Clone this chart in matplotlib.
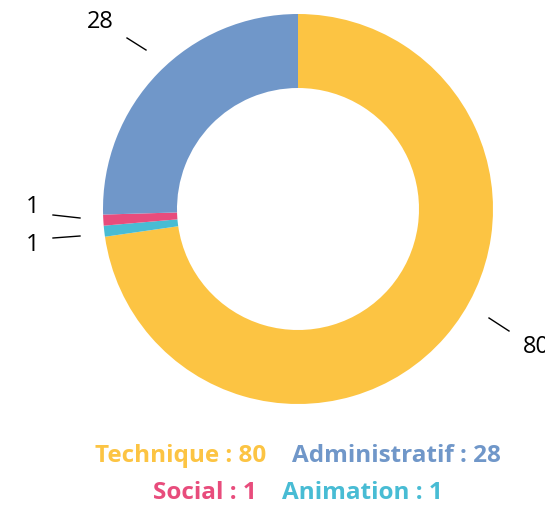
import matplotlib
matplotlib.use("Agg")
import matplotlib.pyplot as plt
import numpy as np

# data (clockwise from 12 o'clock)
categories = ["Technique", "Animation", "Social", "Administratif"]
values = [80, 1, 1, 28]
colors = ["#FCC443", "#48BCD4", "#E84C7C", "#7097C9"]

# legend order
legend_rows = [["Technique", "Administratif"], ["Social", "Animation"]]

W, H = 545, 507
cx, cy, R = 298, 209, 195  # pixel centre / outer radius

fig = plt.figure(figsize=(W / 100, H / 100), dpi=100)
ax = fig.add_axes([0, 0, 1, 1])

wedges, _ = ax.pie(values, colors=colors, startangle=90, counterclock=False,
                   radius=1, wedgeprops=dict(width=74 / R, edgecolor="none"))
ax.set_xlim(-cx / R, (W - cx) / R)
ax.set_ylim((cy - H) / R, cy / R)
ax.set_aspect("equal")
ax.axis("off")

def px(x, y):
    return ((x - cx) / R, (cy - y) / R)

# outside value labels with leader lines (pixel positions)
label_pos = {
    "Technique": ((536, 347), (489, 318), (509, 331)),
    "Animation": ((33, 245), (80, 236), (53, 238)),
    "Social": ((33, 207), (80, 218), (53, 215)),
    "Administratif": ((100, 22), (146, 50), (127, 38)),
}
for cat, v in zip(categories, values):
    t, a, b = label_pos[cat]
    ax.plot(*zip(px(*a), px(*b)), color="black", lw=1)
    ax.text(*px(*t), str(v), ha="center", va="center", fontsize=17,
            family="Open Sans", color="black", clip_on=False)

# legend as coloured text rows
col = dict(zip(categories, colors))
val = dict(zip(categories, values))
renderer = fig.canvas.get_renderer()
gap = 25
for row, yrow in zip(legend_rows, [456, 493]):
    texts = []
    for cat in row:
        t = fig.text(0, 1 - yrow / H, f"{cat} : {val[cat]}", color=col[cat],
                     fontsize=17.5, family="Open Sans", fontweight="bold",
                     ha="left", va="center")
        texts.append(t)
    widths = [t.get_window_extent(renderer).width for t in texts]
    total = sum(widths) + gap * (len(texts) - 1)
    x = cx - total / 2
    for t, w in zip(texts, widths):
        t.set_x(x / W)
        x += w + gap

fig.savefig("out.png", dpi=100)
